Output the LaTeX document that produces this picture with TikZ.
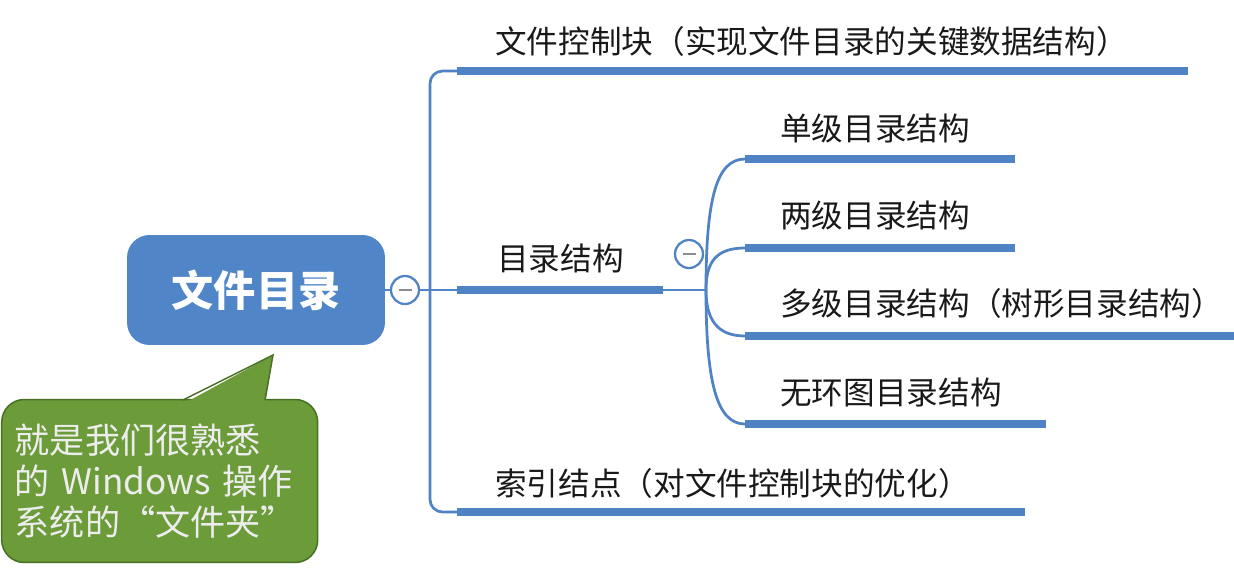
\documentclass[tikz,border=0pt]{standalone}
\usepackage{fontspec}
\setmainfont{Noto Sans CJK SC}
\usepackage{tikz}
\usetikzlibrary{positioning}
\definecolor{mapblue}{RGB}{79,131,196}
\definecolor{rootblue}{RGB}{80,134,200}
\definecolor{notegreen}{RGB}{108,155,58}
\definecolor{noteedge}{RGB}{72,112,36}
\definecolor{minusgray}{RGB}{140,140,150}

\begin{document}
\begin{tikzpicture}[x=0.02cm,y=-0.02cm,
  thinline/.style={mapblue,line width=0.055cm},
  bar/.style={mapblue,line width=0.15cm},
  topic/.style={inner sep=0,anchor=west,font=\fontsize{18pt}{22pt}\selectfont,text=black!90},
  fold/.style={circle,draw=mapblue,fill=white,line width=0.045cm,minimum size=0.56cm,inner sep=0}]
\useasboundingbox (0,0) rectangle (1234,572);

% central topic with its note
\node[fill=rootblue,rounded corners=0.45cm,minimum width=5.16cm,minimum height=2.2cm,
  text=white,font=\fontsize{24pt}{28pt}\selectfont\bfseries] (root) at (256,290) {文件目录};
\node[fill=notegreen,draw=noteedge,line width=0.03cm,rounded corners=0.45cm,anchor=west,
  inner xsep=0.26cm,text width=5.8cm,minimum height=3.26cm,align=left,text=white!93!black,
  font=\fontsize{20pt}{23.2pt}\selectfont] (note) at (1,481)
  {就是我们很熟悉\\的 Windows 操作\\系统的“文件夹”};
\coordinate (tip) at (273,355);
\fill[notegreen] (183,404) -- (tip) -- (265,404) -- cycle;
\draw[noteedge,line width=0.03cm] (183,400) -- (tip) -- (265,400);

% first level
\node[fold] (f1) at (405,290) {};
\coordinate (fork) at (430,290);
\coordinate (b1) at (457,71);
\coordinate (b2) at (457,290);
\coordinate (b3) at (457,512);
\draw[thinline] (root.east) -- (f1.west);
\draw[thinline] (f1.east) -- (b2);
\draw[thinline,rounded corners=0.25cm] (b1) -| (fork) |- (b3);
\node[topic] (t1) at (495,41) {文件控制块（实现文件目录的关键数据结构）};
\draw[bar] (b1) -- (1188,71);
\node[topic] (t2) at (497,258) {目录结构};
\coordinate (b2e) at (663,290);
\draw[bar] (b2) -- (b2e);
\node[topic] (t3) at (495,483) {索引结点（对文件控制块的优化）};
\draw[bar] (b3) -- (1025,512);

% second level under 目录结构
\node[fold] (f2) at (689,254) {};
\coordinate (sfork) at (706,290);
\draw[thinline] (b2e) -- (sfork);
\coordinate (s1) at (745,159);
\coordinate (s2) at (745,248);
\coordinate (s3) at (745,336);
\coordinate (s4) at (745,424);
\draw[thinline] (sfork) .. controls (706,200) and (716,159) .. (s1);
\draw[thinline] (sfork) .. controls (706,262) and (716,248) .. (s2);
\draw[thinline] (sfork) .. controls (706,318) and (716,336) .. (s3);
\draw[thinline] (sfork) .. controls (706,380) and (716,424) .. (s4);
\node[topic] (u1) at (780,128) {单级目录结构};
\draw[bar] (s1) -- (1015,159);
\node[topic] (u2) at (780,215) {两级目录结构};
\draw[bar] (s2) -- (1015,248);
\node[topic] (u3) at (780,303) {多级目录结构（树形目录结构）};
\draw[bar] (s3) -- (1234,336);
\node[topic] (u4) at (780,392) {无环图目录结构};
\draw[bar] (s4) -- (1046,424);

% minus marks on the fold buttons
\foreach \f in {f1,f2}
  \draw[minusgray,line width=0.05cm] ([xshift=-0.13cm]\f.center) -- ([xshift=0.13cm]\f.center);
\end{tikzpicture}
\end{document}
